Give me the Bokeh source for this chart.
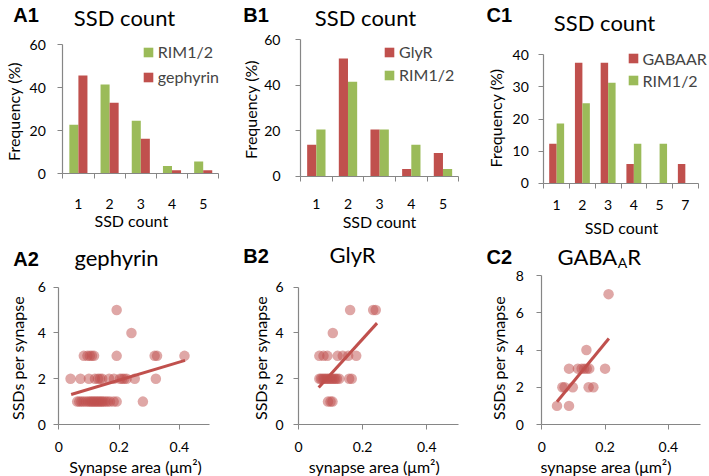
import numpy as np
from bokeh.plotting import figure
from bokeh.models import Range1d, FixedTicker, Label, Legend, LegendItem
from bokeh.layouts import row, column
from bokeh.embed import file_html
from bokeh.resources import INLINE
from bokeh.core.properties import value

# ---------------- data ----------------
a1_cats = ["1", "2", "3", "4", "5"]
a1_rim = [22.8, 41.5, 24.7, 3.6, 5.7]
a1_geph = [45.7, 33.0, 16.3, 1.6, 1.6]

b1_cats = ["1", "2", "3", "4", "5"]
b1_glyr = [13.8, 51.8, 20.5, 3.2, 10.2]
b1_rim = [20.5, 41.6, 20.5, 13.8, 3.2]

c1_cats = ["1", "2", "3", "4", "5", "7"]
c1_gabaar = [12.3, 37.5, 37.5, 6.0, 0.0, 6.0]
c1_rim = [18.6, 24.9, 31.3, 12.3, 12.3, 0.0]

a2_area = [0.061, 0.068, 0.075, 0.082, 0.090, 0.097, 0.103, 0.108, 0.113, 0.118, 0.123,
           0.128, 0.133, 0.138, 0.143, 0.148, 0.155, 0.162, 0.170, 0.182, 0.192, 0.279,
           0.039, 0.072, 0.100, 0.120, 0.130, 0.137, 0.144, 0.167, 0.183, 0.203, 0.210,
           0.217, 0.225, 0.252, 0.322,
           0.083, 0.095, 0.103, 0.110, 0.117, 0.192, 0.318, 0.326, 0.417,
           0.241, 0.192]
a2_ssd = [1] * 22 + [2] * 15 + [3] * 9 + [4, 5]
a2_fit_x = [0.041, 0.419]
a2_fit_y = [1.31, 2.80]

b2_area = [0.092, 0.100, 0.106,
           0.065, 0.070, 0.075, 0.080, 0.085, 0.090, 0.095, 0.100, 0.105, 0.110, 0.115,
           0.120, 0.127, 0.158, 0.166,
           0.065, 0.078, 0.090, 0.122, 0.138, 0.155, 0.180,
           0.107,
           0.161, 0.233, 0.241]
b2_ssd = [1] * 3 + [2] * 15 + [3] * 7 + [4] + [5] * 3
b2_fit_x = [0.063, 0.245]
b2_fit_y = [1.62, 4.43]

c2_area = [0.048, 0.086,
           0.065, 0.072, 0.098, 0.148, 0.163,
           0.086, 0.114, 0.126, 0.134, 0.142, 0.150, 0.200,
           0.141,
           0.211]
c2_ssd = [1] * 2 + [2] * 5 + [3] * 7 + [4] + [7]
c2_fit_x = [0.048, 0.212]
c2_fit_y = [1.22, 4.62]

# ---------------- style ----------------
GREEN = "#9BBB59"
RED = "#C0504D"
AXIS = "#868686"
FONT = "Lato"
BOLD = "Liberation Sans"


def make_fig(box, area, xdom, ydom):
    """box: canvas (ox, oy, W, H) in window px; area: data rectangle (xl, xr, yt, yb)."""
    ox, oy, W, H = box
    xl, xr, yt, yb = area
    x0, x1 = xdom
    y0, y1 = ydom
    kx = (xr - xl) / (x1 - x0)
    ky = (yb - yt) / (y1 - y0)
    xrng = Range1d(x0 - (xl - ox) / kx, x1 + (ox + W - xr) / kx)
    yrng = Range1d(y0 - (oy + H - yb) / ky, y1 + (yt - oy) / ky)
    p = figure(frame_width=W, frame_height=H, min_border=0,
               min_border_left=0, min_border_right=0,
               min_border_top=0, min_border_bottom=0,
               x_range=xrng, y_range=yrng, title=None,
               output_backend="svg", toolbar_location=None)
    p.grid.visible = False
    p.outline_line_color = None
    for ax in (p.xaxis[0], p.yaxis[0]):
        ax.axis_line_color = AXIS
        ax.axis_line_width = 1.2
        ax.major_tick_line_color = AXIS
        ax.minor_tick_line_color = AXIS
        ax.major_tick_in = 0
        ax.major_tick_out = 5
        ax.minor_tick_in = 0
        ax.minor_tick_out = 0
        ax.major_label_text_font = FONT
        ax.major_label_text_font_size = "14px"
        ax.major_label_text_color = "black"
    p.xaxis[0].fixed_location = y0
    p.xaxis[0].bounds = (x0, x1)
    p.yaxis[0].fixed_location = x0
    p.yaxis[0].bounds = (y0, y1)
    p.tags = [ox, oy + H]
    return p


def put(p, wx, wy, text, size, font=FONT, bold=False, align="center", angle=0.0):
    """Place a text whose vertical middle is at window pixel (wx, wy)."""
    fl, fb = p.tags
    p.add_layout(Label(x=wx - fl, y=fb - wy, x_units="screen", y_units="screen",
                       text=text, text_font=font, text_font_size=f"{size}px",
                       text_font_style="bold" if bold else "normal",
                       text_align=align, text_baseline="middle", angle=angle,
                       text_color="black"))


def bar_panel(box, area, cats, left_vals, right_vals, left_col, right_col,
              left_lab, right_lab, ymax, yticks, xstand, ystand, leg):
    n = len(cats)
    pos = np.arange(1, n + 1)
    p = make_fig(box, area, (0.5, n + 0.5), (0, ymax))
    r1 = p.vbar(x=pos - 0.145, top=left_vals, width=0.29, fill_color=left_col, line_color=None)
    r2 = p.vbar(x=pos + 0.145, top=right_vals, width=0.29, fill_color=right_col, line_color=None)
    xa = p.xaxis[0]
    xa.ticker = FixedTicker(ticks=[int(v) for v in pos],
                            minor_ticks=[float(v) for v in np.arange(0.5, n + 1, 1.0)])
    xa.major_label_overrides = {int(v): c for v, c in zip(pos, cats)}
    xa.major_tick_out = 0
    xa.minor_tick_out = 5
    xa.major_label_standoff = xstand
    ya = p.yaxis[0]
    ya.ticker = FixedTicker(ticks=yticks, minor_ticks=[])
    ya.major_label_standoff = ystand
    lx, ly, sp = leg
    ox, oy, W, H = box
    legend = Legend(items=[LegendItem(label=value(left_lab), renderers=[r1]),
                           LegendItem(label=value(right_lab), renderers=[r2])],
                    location=(lx - ox, oy + H - ly), padding=0, margin=0, spacing=sp,
                    glyph_width=12, glyph_height=12, label_height=20,
                    label_standoff=4, label_text_font=FONT,
                    label_text_font_size="16px", border_line_color=None,
                    background_fill_alpha=0)
    p.add_layout(legend)
    return p


def scatter_panel(box, area, xs, ys, fx, fy, ymax, yticks, xstand, ystand):
    p = make_fig(box, area, (0, 0.5), (0, ymax))
    p.scatter(x=xs, y=ys, size=10.5, fill_color=RED, fill_alpha=0.5, line_color=None)
    p.line(x=fx, y=fy, line_color=RED, line_width=3)
    xa = p.xaxis[0]
    xa.ticker = FixedTicker(ticks=[0, 0.2, 0.4], minor_ticks=[])
    xa.major_label_overrides = {0: "0", 0.2: "0.2", 0.4: "0.4"}
    xa.major_label_standoff = xstand
    ya = p.yaxis[0]
    ya.ticker = FixedTicker(ticks=yticks, minor_ticks=[])
    ya.major_label_standoff = ystand
    return p


# canvas boxes (x, y, w, h) and data rectangles in window pixels
a1 = bar_panel((0, 0, 235, 238), (62.3, 218.3, 44.3, 173.3), a1_cats, a1_rim, a1_geph,
               GREEN, RED, "RIM1/2", "gephyrin", 60, [0, 20, 40, 60], 20, 12, (141.8, 86.7, 5))
b1 = bar_panel((235, 0, 230, 238), (300, 458.3, 39.3, 175.7), b1_cats, b1_glyr, b1_rim,
               RED, GREEN, "GlyR", "RIM1/2", 60, [0, 20, 40, 60], 18, 15, (383.1, 84.7, 3))
c1 = bar_panel((465, 0, 244, 238), (543.3, 697.7, 54.3, 182.7), c1_cats, c1_gabaar, c1_rim,
               RED, GREEN, "GABAAR", "RIM1/2", 40, [0, 10, 20, 30, 40], 12, 10, (626.5, 90.3, 2))
a2 = scatter_panel((0, 238, 235, 238), (58.3, 209, 286.7, 424), a2_area, a2_ssd,
                   a2_fit_x, a2_fit_y, 6, [0, 2, 4, 6], 12, 8)
b2 = scatter_panel((235, 238, 230, 238), (298, 458.3, 286.7, 424), b2_area, b2_ssd,
                   b2_fit_x, b2_fit_y, 6, [0, 2, 4, 6], 12, 10)
c2 = scatter_panel((465, 238, 244, 238), (541.3, 699.5, 275, 424), c2_area, c2_ssd,
                   c2_fit_x, c2_fit_y, 8, [0, 2, 4, 6, 8], 12, 13)

ROT = np.pi / 2
# panel letters
put(a1, 12.7, 14.5, "A1", 20, font=BOLD, bold=True, align="left")
put(b1, 242.7, 14.5, "B1", 20, font=BOLD, bold=True, align="left")
put(c1, 486, 14.5, "C1", 20, font=BOLD, bold=True, align="left")
put(a2, 12.7, 258.1, "A2", 20, font=BOLD, bold=True, align="left")
put(b2, 242.7, 255.8, "B2", 20, font=BOLD, bold=True, align="left")
put(c2, 486, 256.5, "C2", 20, font=BOLD, bold=True, align="left")
# titles
put(a1, 124, 16.9, "SSD count", 22)
put(b1, 365, 16.9, "SSD count", 22)
put(c1, 604, 22.2, "SSD count", 22)
put(a2, 116, 257.2, "gephyrin", 22)
put(b2, 352, 253.9, "GlyR", 22)
put(c2, 616.7, 255.6, "GABA", 22, align="right")
put(c2, 617.2, 262.0, "A", 14, align="left")
put(c2, 626.7, 255.6, "R", 22, align="left")
# y-axis titles
put(a1, 13.1, 111, "Frequency (%)", 16, angle=ROT)
put(b1, 249.8, 109, "Frequency (%)", 16, angle=ROT)
put(c1, 494.8, 117.5, "Frequency (%)", 16, angle=ROT)
put(a2, 16.5, 357.5, "SSDs per synapse", 16, angle=ROT)
put(b2, 259.8, 357.5, "SSDs per synapse", 16, angle=ROT)
put(c2, 498.1, 357.5, "SSDs per synapse", 16, angle=ROT)
# x-axis titles
put(a1, 130.8, 219.8, "SSD count", 16)
put(b1, 379, 221.3, "SSD count", 16)
put(c1, 621, 226.8, "SSD count", 16)
put(a2, 135, 465.8, "Synapse area (\u03bcm\u00b2)", 16)
put(b2, 375.7, 465.5, "synapse  area (\u03bcm\u00b2)", 16)
put(c2, 607.5, 465.5, "synapse  area (\u03bcm\u00b2)", 16)

layout = column(row(a1, b1, c1), row(a2, b2, c2))
open("out.html", "w").write(file_html(layout, INLINE))
